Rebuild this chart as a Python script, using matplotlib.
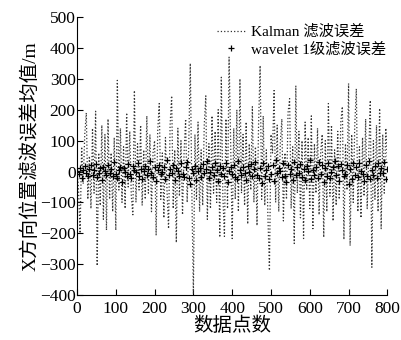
import numpy as np
import matplotlib
matplotlib.use("Agg")
import matplotlib.pyplot as plt

plt.rcParams['font.family'] = ['Liberation Serif', 'Noto Sans CJK SC', 'DejaVu Sans']

# sample index (every 4th point)
x = np.arange(0, 801, 4)

kalman = [10, -60, -200, 80, -40, 120, 190, -90, 50, -120,
          140, -70, 195, -305, 60, -110, 150, -155, 120, -190,
          170, -90, 60, -130, 110, -190, 295, -60, 140, -100,
          80, -120, 190, -50, 130, -80, -140, 262, -100, 90,
          -60, 150, -110, 70, -90, 180, -70, 120, -130, 60,
          100, -207, 130, 220, -90, 60, -150, 110, -60, -185,
          150, 245, -120, 70, -230, 140, -80, 100, -140, 60,
          170, -100, 80, 350, -60, -395, 120, -90, 160, -130,
          70, -110, 150, 245, -155, 90, -120, 180, -70, 130,
          -100, 200, -213, 305, -80, -210, 170, -120, 370, 100,
          -217, 140, -90, 200, -130, 300, -70, 120, -110, 160,
          -170, 90, -60, 210, -100, 80, -175, 150, 343, -90,
          180, -110, 70, -140, -320, 120, 60, 262, -100, 150,
          -130, 90, 170, -160, 60, -90, 190, 236, -120, 80,
          -233, 278, -70, 130, -150, 100, -217, 160, -60, 110,
          -120, 180, -185, 90, -70, 140, -140, 60, 120, -213,
          100, -130, 220, -80, 150, -160, 70, -110, 130, -90,
          160, 210, -220, 90, -60, 285, -240, 120, -100, 150,
          268, -130, 80, -150, 110, -80, 170, -120, 60, 230,
          -310, 100, -90, 150, -130, 204, -185, 120, -70, 140,
          30]

wavelet = [3, -8, 12, -22, 6, 18, -5, -15, 9, 20,
           -12, 4, 25, -18, -6, 10, -28, 14, 2, -10,
           22, -4, 8, -16, 30, -9, -20, 5, 15, -35,
           11, 0, -13, 24, -7, -21, 17, 6, -3, 28,
           -14, 9, -25, 2, 19, -11, 7, 33, -6, -18,
           13, -30, 4, 21, -9, -2, 16, -24, 38, -12,
           7, -5, 20, -27, 11, 3, -15, 26, -8, -19,
           14, 30, -22, -40, 9, -4, 18, -29, 1, 12,
           -17, 23, -6, 8, 35, -20, -3, 15, -11, 27,
           5, -31, 19, -7, 10, -14, 29, -33, 2, 16,
           -9, 21, -18, -25, 34, 6, -12, 13, -4, -28,
           18, -2, 24, -16, 8, 31, -10, -21, 12, -38,
           26, -13, 5, 17, -23, -8, 20, -30, 37, -6,
           11, 3, -19, 28, -15, -34, 22, -9, 7, -26,
           30, -11, 16, -4, 25, -18, 9, -29, 19, 2,
           36, -24, 6, -12, 14, -20, 32, -7, 21, -35,
           10, -16, 27, -21, -3, 13, 33, -10, 18, -30,
           24, 4, -14, -8, 22, -40, 7, -25, 29, -11,
           15, -19, 26, 1, -9, -31, 20, -15, 34, -23,
           6, -12, 17, -22, 27, -6, 11, -4, 30, -24,
           8]

xticks = list(range(0, 801, 100))
yticks = list(range(-400, 501, 100))

fig = plt.figure(figsize=(4.01, 3.40), dpi=100)
ax = fig.add_axes([0.192, 0.132, 0.774, 0.818])

ax.plot(x, kalman, color='#333333', linestyle=':', linewidth=0.9, label='Kalman 滤波误差')
ax.plot(x, wavelet, color='black', linestyle='none', marker='+', markersize=5,
        markeredgewidth=0.9, label='wavelet 1级滤波误差')

ax.set_xlim(0, 800)
ax.set_ylim(-400, 500)
ax.set_xticks(xticks)
ax.set_yticks(yticks)
ax.tick_params(direction='in', length=4, labelsize=12.5)
ax.tick_params(axis='y', pad=1)
ax.tick_params(axis='x', pad=4)
ax.spines['top'].set_visible(False)
ax.spines['right'].set_visible(False)

ax.set_xlabel('数据点数', fontsize=14, labelpad=0)
ax.set_ylabel('X方向位置滤波误差均值/m', fontsize=14, labelpad=0)

ax.legend(loc='upper right', bbox_to_anchor=(1.02, 1.0), frameon=False, fontsize=11,
          handlelength=1.8, handletextpad=0.4, borderaxespad=0.1, labelspacing=0.2)

fig.savefig('out.png', dpi=100)
